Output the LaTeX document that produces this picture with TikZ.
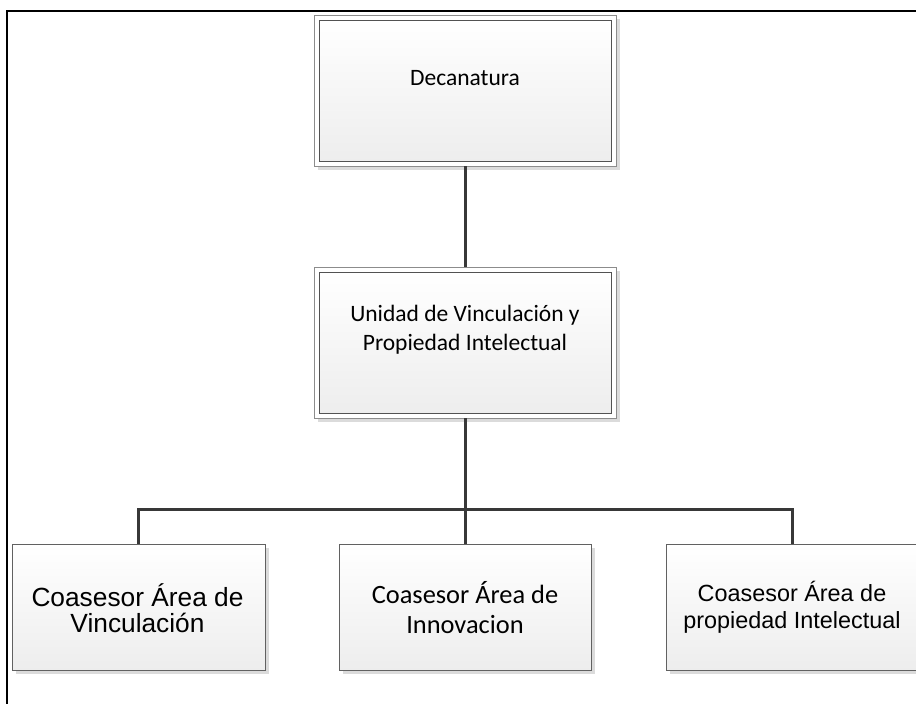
\documentclass[tikz,border=0pt]{standalone}
\usepackage{fontspec}
\newfontfamily\calib{Carlito}
\newfontfamily\arialf{Liberation Sans}
\begin{document}
\begin{tikzpicture}[x=1pt,y=-1pt,
  shadowbox/.style={fill=black!14, draw=none, inner sep=0pt},
  outerbox/.style={draw=black!45, line width=0.9pt, fill=white, inner sep=0pt},
  innerbox/.style={draw=black!68, line width=0.9pt, top color=white, bottom color=black!7, inner sep=0pt},
  leafbox/.style={draw=black!62, line width=0.9pt, top color=white, bottom color=black!7, inner sep=0pt,
     minimum width=252pt, minimum height=126pt},
  conn/.style={draw=black!78, line width=3pt},
  frame/.style={draw=black, line width=2.2pt},
  lbl/.style={inner sep=0pt, align=center, text=black}
]
\useasboundingbox (0,0) rectangle (916,704);
\clip (0,0) rectangle (916,704);
\fill[white] (0,0) rectangle (916,704);

% frame
\draw[frame] (7,704) -- (7,11) -- (916,11);

% Decanatura
\node[shadowbox, minimum width=302pt, minimum height=151pt] (decs) at (469,94.5) {};
\node[outerbox, minimum width=302pt, minimum height=151pt] (dec) at (465,90.5) {};
\node[innerbox, minimum width=292pt, minimum height=141pt] (deci) at (465,90.5) {};
\node[lbl, font=\calib\fontsize{23.5}{29}\selectfont] (dect) at (465,78.5) {Decanatura};

% Unidad
\node[shadowbox, minimum width=302pt, minimum height=151pt] (unis) at (469,346.5) {};
\node[outerbox, minimum width=302pt, minimum height=151pt] (uni) at (465,342.5) {};
\node[innerbox, minimum width=292pt, minimum height=141pt] (unii) at (465,342.5) {};
\node[lbl, font=\calib\fontsize{23.5}{29}\selectfont] (unit) at (465,330)
  {Unidad de Vinculación y\\Propiedad Intelectual};

% leaves
\node[shadowbox, minimum width=253pt, minimum height=126pt] (ls) at (142.5,611) {};
\node[leafbox, minimum width=253pt] (l) at (138.5,607) {};
\node[lbl, font=\arialf\fontsize{26.3}{26}\selectfont] (lt) at (137.5,608)
  {Coasesor Área de\\Vinculación};

\node[shadowbox, minimum width=252pt, minimum height=126pt] (ms) at (469,611) {};
\node[leafbox] (m) at (465,607) {};
\node[lbl, font=\calib\fontsize{26.4}{30}\selectfont] (mt) at (465,608)
  {Coasesor Área de\\Innovacion};

\node[shadowbox, minimum width=252pt, minimum height=126pt] (rs) at (796,611) {};
\node[leafbox] (r) at (792,607) {};
\node[lbl, font=\arialf\fontsize{23.4}{27}\selectfont] (rt) at (792,607)
  {Coasesor Área de\\propiedad Intelectual};

% connectors
\coordinate (bar) at (465,509);
\draw[conn] (dec.south) -- (uni.north);
\draw[conn] (uni.south) -- (m.north);
\draw[conn] (l.north) -- (l.north |- bar) -- (r.north |- bar) -- (r.north);
\end{tikzpicture}
\end{document}
